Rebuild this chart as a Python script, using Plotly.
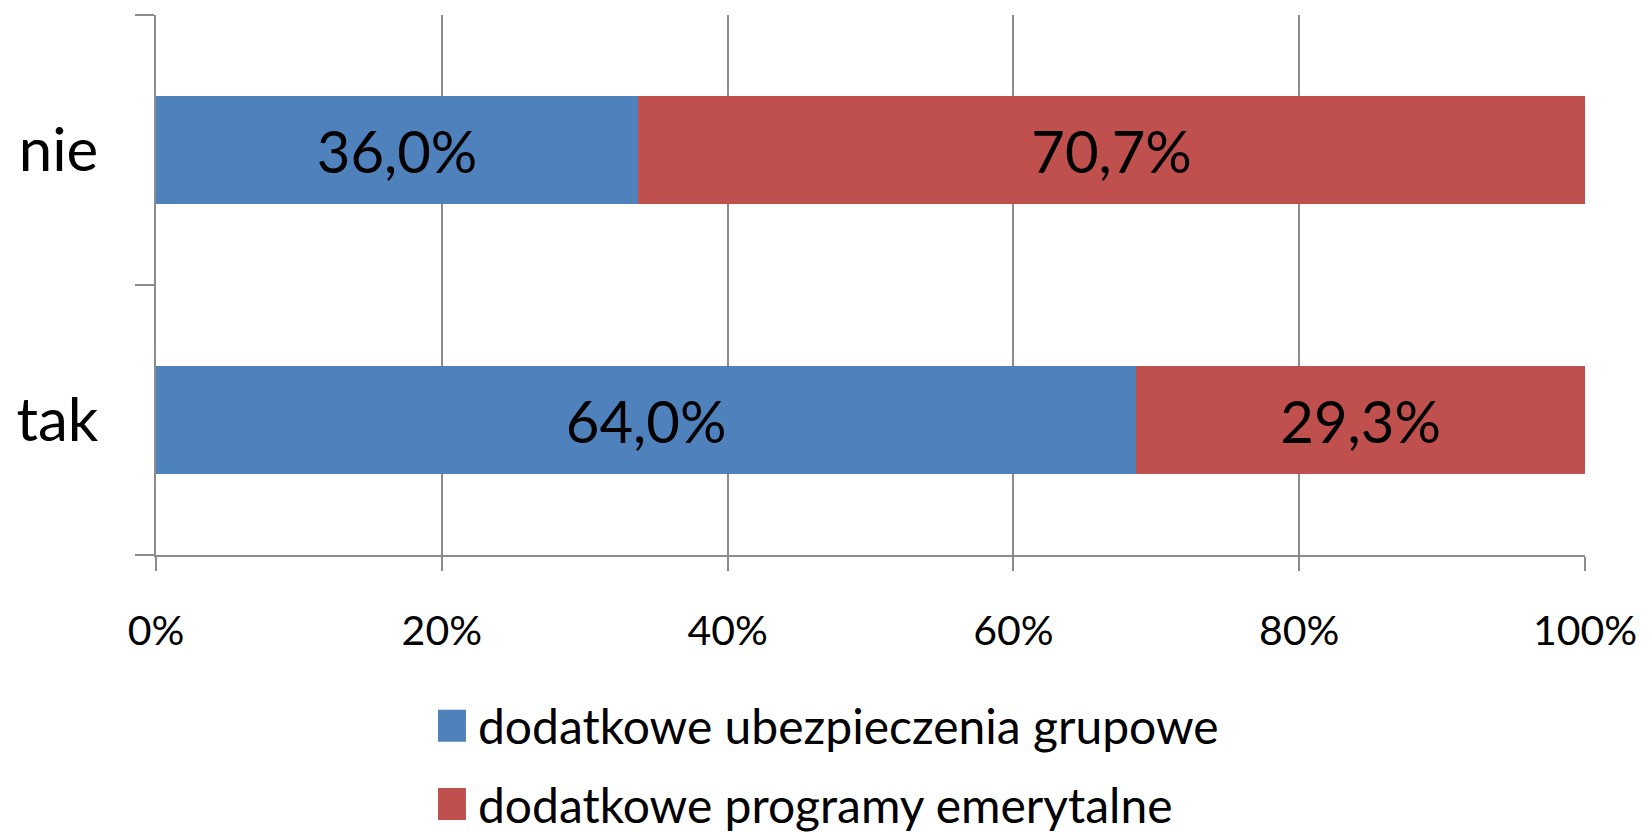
import plotly.graph_objects as go

categories = ["tak", "nie"]
series_names = ["dodatkowe ubezpieczenia grupowe", "dodatkowe programy emerytalne"]
grupowe = [64.0, 36.0]
emerytalne = [29.3, 70.7]
x_ticks = [0, 20, 40, 60, 80, 100]
x_tick_labels = ["0%", "20%", "40%", "60%", "80%", "100%"]

colors = ["#4F81BD", "#C0504D"]
FONT = "Lato"
GRID = "#8C8C8C"

def fmt(v):
    return f"{v:.1f}%".replace(".", ",")

fig = go.Figure()
for i, (name, vals) in enumerate(zip(series_names, [grupowe, emerytalne])):
    fig.add_trace(go.Bar(
        y=categories, x=vals, orientation="h", name=name,
        marker=dict(color=colors[i], line=dict(width=0)),
        text=[fmt(v) for v in vals], textposition="inside",
        insidetextanchor="middle", textangle=0,
        textfont=dict(family=FONT, size=58, color="black"),
        legendgroup=f"g{i}",
    ))

fig.update_layout(
    width=1652, height=836,
    barmode="stack", barnorm="percent", bargap=0.6,
    plot_bgcolor="white", paper_bgcolor="white",
    margin=dict(l=156, r=67, t=15, b=281, autoexpand=False),
    font=dict(family=FONT, color="black"),
    legend=dict(
        orientation="v", xref="container", yref="container",
        x=0.2651, xanchor="left", y=1 - 688 / 836, yanchor="top",
        font=dict(family=FONT, size=48, color="black"),
        traceorder="grouped", tracegroupgap=13,
    ),
    showlegend=True,
)
fig.update_xaxes(
    range=[0, 100], tickvals=x_ticks, ticktext=x_tick_labels,
    showgrid=True, gridcolor=GRID, gridwidth=1.5,
    showline=True, linecolor=GRID, linewidth=1.5,
    ticks="outside", ticklen=14, tickcolor=GRID, tickwidth=1.5,
    zeroline=False, tickangle=0,
    tickfont=dict(family=FONT, size=41, color="black"),
    ticklabelstandoff=25,
)
fig.update_yaxes(
    categoryorder="array", categoryarray=categories,
    showgrid=False, showline=True, linecolor=GRID, linewidth=1.5,
    ticks="outside", ticklen=19, tickcolor=GRID, tickwidth=1.5,
    tickson="boundaries",
    tickfont=dict(family=FONT, size=60, color="black"),
    ticklabelstandoff=44,
)

post = """
document.body.style.margin = '0';
document.querySelectorAll('.legendpoints path').forEach(function(p){
  p.setAttribute('d','M8,16H-24V-16H8Z');
});
"""
fig.write_html("out.html", post_script=post, config={"displayModeBar": False})
